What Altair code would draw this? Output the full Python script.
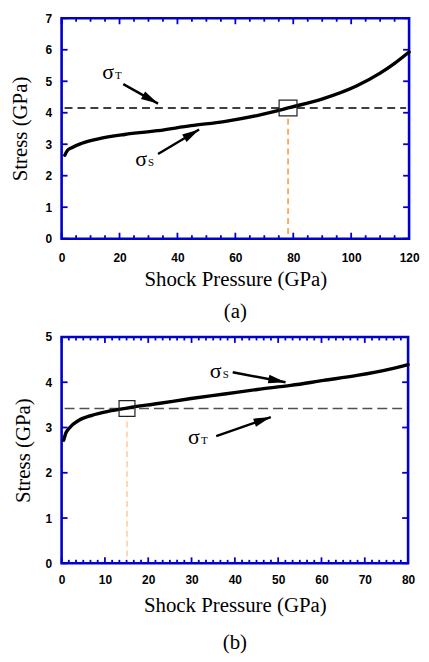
import math
import altair as alt
import pandas as pd

# ---------------- data ----------------
# Panel (a)
a_pressure = [1.1, 2.0, 3.5, 7.0, 12.7, 21.8, 33.3, 44.7, 56.1, 67.5, 79.0, 90.4, 101.8, 110.0, 115.0, 120.0]
a_stress = [2.65, 2.80, 2.89, 3.03, 3.17, 3.31, 3.43, 3.59, 3.72, 3.91, 4.17, 4.45, 4.85, 5.26, 5.57, 5.93]
a_threshold = 4.15
a_cross = 78.2
a_xticks = [0, 20, 40, 60, 80, 100, 120]
a_xminor = [5, 10, 15, 25, 30, 35, 45, 50, 55, 65, 70, 75, 85, 90, 95, 105, 110, 115]
a_yticks = [0, 1, 2, 3, 4, 5, 6, 7]
a_arrow_x = [21.3, 33.3]
a_arrow_y = [4.91, 2.69]
a_arrow_x2 = [33.3, 47.5]
a_arrow_y2 = [4.29, 3.47]
a_label_x = [14.0, 25.4]
a_label_y = [5.07, 2.30]
a_label_sub = ["T", "S"]

# Panel (b)
b_pressure = [0.5, 0.9, 1.7, 4.0, 7.0, 10.9, 15.1, 22.3, 29.9, 37.6, 45.2, 52.9, 60.5, 68.2, 75.8, 80.0]
b_stress = [2.72, 2.86, 2.98, 3.16, 3.27, 3.36, 3.43, 3.53, 3.64, 3.74, 3.84, 3.93, 4.04, 4.15, 4.29, 4.39]
b_threshold = 3.42
b_cross = 15.1
b_xticks = [0, 10, 20, 30, 40, 50, 60, 70, 80]
b_xminor = [round(i * 10 / 6, 3) for i in range(49) if i % 6]
b_yticks = [0, 1, 2, 3, 4, 5]
b_arrow_x = [39.5, 35.7]
b_arrow_y = [4.22, 2.81]
b_arrow_x2 = [51.7, 48.3]
b_arrow_y2 = [4.00, 3.23]
b_label_x = [34.2, 29.2]
b_label_y = [4.09, 2.64]
b_label_sub = ["S", "T"]

BLUE = "#0000cc"
SERIF = "Liberation Serif"
SANS = "Liberation Sans"
HEAD = "M0,0L0.5,2L-0.5,2Z"


def panel(W, H, xmax, ymax, px, st, thr, cross, xt, xm, yt,
          ax, ay, ax2, ay2, lx, ly, lsub, cap,
          thr_color, thr_dash, orange, orange_w,
          sq_w, sq_h, x_lab_pad, x_title_pad, y_lab_pad, y_title_pad, cap_off):
    xs = alt.Scale(domain=[0, xmax], nice=False, zero=False)
    ys = alt.Scale(domain=[0, ymax], nice=False, zero=False)
    xaxis = alt.Axis(values=xt, title="Shock Pressure (GPa)", labelPadding=x_lab_pad,
                     titlePadding=x_title_pad, labelFlush=False)
    yaxis = alt.Axis(values=yt, title="Stress (GPa)", labelPadding=y_lab_pad,
                     titlePadding=y_title_pad, labelFlush=False)

    def X(f):
        return alt.X(f, type="quantitative", scale=xs, axis=xaxis)

    def Y(f):
        return alt.Y(f, type="quantitative", scale=ys, axis=yaxis)

    layers = []
    # inward ticks
    xmaj_df = pd.DataFrame({"p": xt})
    xmin_df = pd.DataFrame({"p": xm})
    ymaj_df = pd.DataFrame({"s": yt})
    for df, L in ((xmaj_df, 6), (xmin_df, 3.5)):
        layers.append(alt.Chart(df).mark_rule(color=BLUE, strokeWidth=1.8).encode(
            x=X("p"), y=alt.value(H), y2=alt.value(H - L)))
        layers.append(alt.Chart(df).mark_rule(color=BLUE, strokeWidth=1.8).encode(
            x=X("p"), y=alt.value(0), y2=alt.value(L)))
    layers.append(alt.Chart(ymaj_df).mark_rule(color=BLUE, strokeWidth=1.8).encode(
        y=Y("s"), x=alt.value(0), x2=alt.value(6)))
    layers.append(alt.Chart(ymaj_df).mark_rule(color=BLUE, strokeWidth=1.8).encode(
        y=Y("s"), x=alt.value(W), x2=alt.value(W - 6)))

    # threshold dashed line
    thr_df = pd.DataFrame({"s": [thr]})
    layers.append(alt.Chart(thr_df).mark_rule(color=thr_color, strokeWidth=1.6,
                                                strokeDash=thr_dash).encode(
        y=Y("s"), x=alt.value(3), x2=alt.value(W - 3)))

    # orange drop line
    top = thr - (sq_h / 2) * ymax / H
    drop_df = pd.DataFrame({"p": [cross], "s": [0.15], "s2": [top]})
    layers.append(alt.Chart(drop_df).mark_rule(color=orange, strokeWidth=orange_w,
                                                 strokeDash=[6, 4]).encode(
        x=X("p"), y=Y("s"), y2="s2:Q"))

    # curve
    cdf = pd.DataFrame({"p": px, "s": st})
    layers.append(alt.Chart(cdf).mark_line(color="black", strokeWidth=3.4,
                                           interpolate="monotone", strokeCap="round").encode(
        x=X("p"), y=Y("s")))

    # square marker
    sq_path = "M-1,-{h}L1,-{h}L1,{h}L-1,{h}Z".format(h=round(sq_h / sq_w, 3))
    sq_df = pd.DataFrame({"p": [cross], "s": [thr]})
    layers.append(alt.Chart(sq_df).mark_point(shape=sq_path, size=sq_w * sq_w, filled=False,
                                              color="#222222", strokeWidth=1.2, opacity=1).encode(
        x=X("p"), y=Y("s")))

    # arrows
    ang = []
    for x1, y1, x2, y2 in zip(ax, ay, ax2, ay2):
        dx = (x2 - x1) * W / xmax
        dy = -(y2 - y1) * H / ymax
        ang.append(math.degrees(math.atan2(dx, -dy)) % 360)
    adf = pd.DataFrame({"p": ax, "s": ay, "p2": ax2, "s2": ay2, "ang": ang})
    layers.append(alt.Chart(adf).mark_rule(color="black", strokeWidth=2.4).encode(
        x=X("p"), y=Y("s"), x2="p2:Q", y2="s2:Q"))
    layers.append(alt.Chart(adf).mark_point(shape=HEAD, size=300, filled=True, color="black",
                                            opacity=1, strokeWidth=0).encode(
        x=X("p2"), y=Y("s2"), angle=alt.Angle("ang:Q", scale=None)))

    # sigma labels
    ldf = pd.DataFrame({"p": lx, "s": ly, "sig": ["σ"] * len(lx), "sub": lsub})
    layers.append(alt.Chart(ldf).mark_text(align="left", baseline="alphabetic", font=SERIF,
                                           fontSize=22, color="black").encode(
        x=X("p"), y=Y("s"), text="sig:N"))
    layers.append(alt.Chart(ldf).mark_text(align="left", baseline="alphabetic", font=SERIF,
                                           fontSize=11, color="black", dx=13).encode(
        x=X("p"), y=Y("s"), text="sub:N"))

    return alt.layer(*layers).properties(
        width=W, height=H,
        title=alt.TitleParams(cap, orient="bottom", font=SERIF, fontSize=21,
                              fontWeight="normal", color="black", offset=cap_off,
                              anchor="middle"))


pa = panel(350, 222, 120, 7, a_pressure, a_stress, a_threshold, a_cross,
           a_xticks, a_xminor, a_yticks,
           a_arrow_x, a_arrow_y, a_arrow_x2, a_arrow_y2, a_label_x, a_label_y, a_label_sub,
           "(a)", "black", [8, 5], "#ff9a3c", 1.6, 18, 16,
           14, 5, 10, 15, 12)
pb = panel(349, 228, 80, 5, b_pressure, b_stress, b_threshold, b_cross,
           b_xticks, b_xminor, b_yticks,
           b_arrow_x, b_arrow_y, b_arrow_x2, b_arrow_y2, b_label_x, b_label_y, b_label_sub,
           "(b)", "#505050", [10, 5], "#ffbf80", 1.2, 16, 16,
           11, 10, 10, 12, 16)

chart = alt.vconcat(pa, pb, spacing=5).properties(
    padding={"left": 0, "top": 0, "right": 0, "bottom": 0}
).configure_view(
    stroke=BLUE, strokeWidth=2.6
).configure_axis(
    domain=False, ticks=False, grid=False,
    labelFont=SANS, labelFontWeight="bold", labelFontSize=12, labelColor="black",
    titleFont=SERIF, titleFontSize=21, titleFontWeight="normal", titleColor="black"
)

chart.save("out.html", embed_options={"renderer": "svg", "actions": False})
